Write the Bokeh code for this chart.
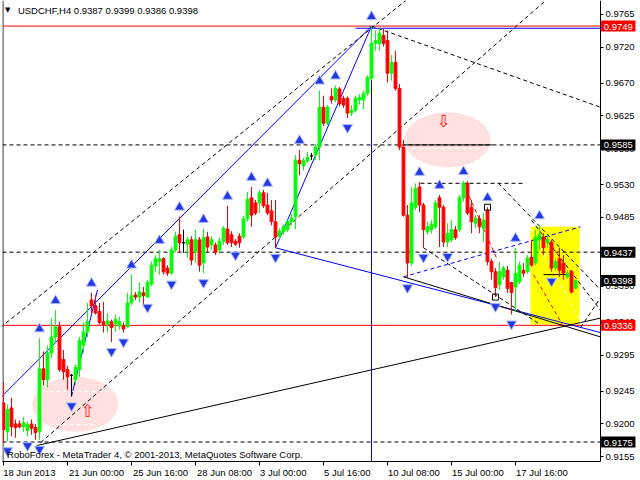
from bokeh.plotting import figure
from bokeh.models import Range1d, FixedTicker, PrintfTickFormatter, Label, LinearAxis
from bokeh.core.properties import value
from bokeh.embed import file_html
from bokeh.resources import INLINE

# ---- H4 candles, USDCHF (18 Jun 2013 08:00 onward) ----
OPEN = [0.9229, 0.9189, 0.9222, 0.9200, 0.9200, 0.9196, 0.9191, 0.9200, 0.9195, 0.9189,
        0.9276, 0.9261, 0.9298, 0.9320, 0.9334, 0.9289, 0.9275, 0.9267, 0.9261, 0.9275,
        0.9309, 0.9327, 0.9371, 0.9363, 0.9355, 0.9341, 0.9337, 0.9341, 0.9338, 0.9335,
        0.9335, 0.9334, 0.9367, 0.9378, 0.9375, 0.9381, 0.9375, 0.9393, 0.9418, 0.9424,
        0.9428, 0.9415, 0.9408, 0.9440, 0.9461, 0.9450, 0.9448, 0.9454, 0.9437, 0.9454,
        0.9422, 0.9458, 0.9447, 0.9447, 0.9440, 0.9452, 0.9469, 0.9461, 0.9452, 0.9459,
        0.9458, 0.9483, 0.9512, 0.9505, 0.9505, 0.9519, 0.9502, 0.9494, 0.9479, 0.9459,
        0.9465, 0.9468, 0.9479, 0.9486, 0.9564, 0.9556, 0.9563, 0.9570, 0.9571, 0.9582,
        0.9637, 0.9615, 0.9652, 0.9647, 0.9662, 0.9649, 0.9649, 0.9629, 0.9633, 0.9647,
        0.9647, 0.9656, 0.9677, 0.9725, 0.9725, 0.9736, 0.9729, 0.9684, 0.9699, 0.9663,
        0.9582, 0.9488, 0.9422, 0.9499, 0.9527, 0.9502, 0.9465, 0.9468, 0.9472, 0.9512,
        0.9499, 0.9451, 0.9454, 0.9468, 0.9468, 0.9512, 0.9532, 0.9499, 0.9477, 0.9483,
        0.9470, 0.9495, 0.9424, 0.9410, 0.9392, 0.9403, 0.9412, 0.9395, 0.9389, 0.9396,
        0.9412, 0.9410, 0.9430, 0.9422, 0.9454, 0.9458, 0.9450, 0.9451, 0.9415, 0.9428,
        0.9422, 0.9403, 0.9410, 0.9387]
HIGH = [0.9258, 0.9227, 0.9236, 0.9206, 0.9205, 0.9209, 0.9203, 0.9206, 0.9200, 0.9318,
        0.9300, 0.9308, 0.9346, 0.9357, 0.9341, 0.9302, 0.9280, 0.9269, 0.9282, 0.9320,
        0.9340, 0.9367, 0.9381, 0.9378, 0.9367, 0.9368, 0.9353, 0.9344, 0.9351, 0.9348,
        0.9340, 0.9381, 0.9406, 0.9382, 0.9395, 0.9389, 0.9399, 0.9424, 0.9433, 0.9440,
        0.9430, 0.9419, 0.9444, 0.9465, 0.9486, 0.9468, 0.9458, 0.9459, 0.9468, 0.9458,
        0.9469, 0.9465, 0.9459, 0.9450, 0.9457, 0.9473, 0.9501, 0.9466, 0.9455, 0.9463,
        0.9487, 0.9520, 0.9527, 0.9509, 0.9523, 0.9523, 0.9519, 0.9509, 0.9509, 0.9470,
        0.9476, 0.9481, 0.9490, 0.9571, 0.9578, 0.9567, 0.9575, 0.9574, 0.9587, 0.9660,
        0.9653, 0.9640, 0.9663, 0.9667, 0.9665, 0.9653, 0.9652, 0.9640, 0.9653, 0.9655,
        0.9660, 0.9681, 0.9749, 0.9743, 0.9746, 0.9746, 0.9743, 0.9709, 0.9715, 0.9669,
        0.9592, 0.9502, 0.9527, 0.9532, 0.9534, 0.9505, 0.9479, 0.9481, 0.9509, 0.9516,
        0.9502, 0.9477, 0.9481, 0.9473, 0.9516, 0.9535, 0.9535, 0.9509, 0.9488, 0.9488,
        0.9491, 0.9499, 0.9428, 0.9415, 0.9424, 0.9418, 0.9418, 0.9396, 0.9443, 0.9424,
        0.9422, 0.9433, 0.9454, 0.9468, 0.9474, 0.9463, 0.9461, 0.9454, 0.9429, 0.9443,
        0.9433, 0.9412, 0.9412, 0.9399]
LOW = [0.9174, 0.9176, 0.9183, 0.9181, 0.9194, 0.9189, 0.9183, 0.9185, 0.9178, 0.9178,
       0.9253, 0.9250, 0.9291, 0.9312, 0.9272, 0.9261, 0.9247, 0.9238, 0.9254, 0.9265,
       0.9298, 0.9320, 0.9353, 0.9351, 0.9337, 0.9326, 0.9326, 0.9313, 0.9327, 0.9330,
       0.9326, 0.9333, 0.9364, 0.9371, 0.9368, 0.9362, 0.9374, 0.9390, 0.9410, 0.9406,
       0.9406, 0.9404, 0.9406, 0.9437, 0.9436, 0.9436, 0.9429, 0.9419, 0.9422, 0.9410,
       0.9408, 0.9437, 0.9440, 0.9433, 0.9435, 0.9447, 0.9447, 0.9444, 0.9446, 0.9443,
       0.9455, 0.9479, 0.9472, 0.9488, 0.9491, 0.9498, 0.9488, 0.9474, 0.9443, 0.9455,
       0.9461, 0.9465, 0.9474, 0.9469, 0.9543, 0.9550, 0.9560, 0.9564, 0.9564, 0.9564,
       0.9611, 0.9612, 0.9642, 0.9644, 0.9638, 0.9636, 0.9622, 0.9625, 0.9630, 0.9641,
       0.9634, 0.9653, 0.9674, 0.9715, 0.9715, 0.9721, 0.9671, 0.9674, 0.9660, 0.9578,
       0.9486, 0.9401, 0.9418, 0.9495, 0.9492, 0.9443, 0.9461, 0.9463, 0.9469, 0.9444,
       0.9444, 0.9444, 0.9451, 0.9454, 0.9465, 0.9507, 0.9488, 0.9463, 0.9470, 0.9463,
       0.9451, 0.9419, 0.9399, 0.9375, 0.9385, 0.9399, 0.9381, 0.9351, 0.9355, 0.9393,
       0.9403, 0.9407, 0.9417, 0.9419, 0.9440, 0.9433, 0.9443, 0.9410, 0.9412, 0.9403,
       0.9399, 0.9400, 0.9380, 0.9386]
CLOSE = [0.9192, 0.9220, 0.9196, 0.9195, 0.9196, 0.9202, 0.9199, 0.9194, 0.9188, 0.9276,
         0.9261, 0.9298, 0.9320, 0.9334, 0.9275, 0.9272, 0.9265, 0.9267, 0.9278, 0.9315,
         0.9327, 0.9341, 0.9363, 0.9353, 0.9340, 0.9337, 0.9342, 0.9333, 0.9344, 0.9341,
         0.9331, 0.9367, 0.9377, 0.9375, 0.9382, 0.9377, 0.9395, 0.9419, 0.9428, 0.9428,
         0.9410, 0.9408, 0.9440, 0.9459, 0.9450, 0.9450, 0.9454, 0.9426, 0.9454, 0.9419,
         0.9457, 0.9444, 0.9454, 0.9437, 0.9452, 0.9470, 0.9450, 0.9450, 0.9448, 0.9450,
         0.9483, 0.9510, 0.9488, 0.9491, 0.9519, 0.9501, 0.9491, 0.9479, 0.9458, 0.9466,
         0.9472, 0.9479, 0.9484, 0.9564, 0.9559, 0.9563, 0.9568, 0.9570, 0.9582, 0.9637,
         0.9615, 0.9637, 0.9647, 0.9663, 0.9642, 0.9640, 0.9629, 0.9633, 0.9649, 0.9651,
         0.9656, 0.9678, 0.9725, 0.9729, 0.9739, 0.9725, 0.9684, 0.9699, 0.9663, 0.9582,
         0.9488, 0.9422, 0.9505, 0.9525, 0.9502, 0.9468, 0.9472, 0.9476, 0.9505, 0.9499,
         0.9451, 0.9463, 0.9468, 0.9457, 0.9512, 0.9532, 0.9491, 0.9479, 0.9484, 0.9472,
         0.9481, 0.9424, 0.9410, 0.9388, 0.9410, 0.9415, 0.9387, 0.9381, 0.9408, 0.9419,
         0.9408, 0.9429, 0.9419, 0.9458, 0.9461, 0.9443, 0.9454, 0.9415, 0.9424, 0.9412,
         0.9408, 0.9408, 0.9382, 0.9398]

DATE_TICKS = [0, 16, 32, 48, 64, 80, 96, 112, 128]
DATE_LABELS = ["18 Jun 2013", "21 Jun 00:00", "25 Jun 16:00", "28 Jun 08:00", "3 Jul 00:00",
               "5 Jul 16:00", "10 Jul 08:00", "15 Jul 00:00", "17 Jul 16:00"]
PRICE_TICKS = [0.9765, 0.9720, 0.9670, 0.9625, 0.9580, 0.9530, 0.9485, 0.9390, 0.9340,
               0.9295, 0.9245, 0.9200, 0.9155]

# horizontal levels: (price, line colour, dash, label background)
LEVELS = [(0.9749, "#FF0000", "solid", "#FF0000"),
          (0.9585, "black", "4 3", "black"),
          (0.9437, "black", "4 3", "black"),
          (0.9336, "#FF0000", "solid", "#FF0000"),
          (0.9175, "black", "4 3", "black")]
BID = 0.9398

# fractal bars
UP_FRACTALS = [9, 13, 22, 32, 39, 44, 50, 56, 62, 66, 74, 79, 83, 92, 104, 109, 115, 121, 128, 134]
DOWN_FRACTALS = [1, 6, 9, 17, 27, 30, 36, 42, 50, 58, 68, 86, 101, 105, 111, 123, 127, 137]

# trend lines: (bar0, price0, bar1, price1, colour, dash)
TRENDLINES = [
    (-0.75, 0.9236, 92, 0.9749, "#0000FF", "solid"),
    (68, 0.9443, 92, 0.9749, "#0000FF", "solid"),
    (68, 0.9443, 149.25, 0.9326, "#0000FF", "solid"),
    (17, 0.9238, 23.5, 0.9385, "#0000FF", "solid"),
    (8.25, 0.9170, 149.25, 0.9346, "black", "solid"),
    (100, 0.9403, 149.25, 0.9320, "black", "solid"),
    (-0.75, 0.9333, 100.5, 0.9784, "black", "4 3"),
    (9.25, 0.9174, 135.5, 0.9784, "black", "4 3"),
    (92, 0.9749, 149.25, 0.9637, "black", "4 3"),
    (104.25, 0.9532, 130.5, 0.9532, "black", "4 3"),
    (123.75, 0.9532, 149.25, 0.9385, "black", "4 3"),
    (105, 0.9443, 134.25, 0.9337, "black", "4 3"),
    (132, 0.9481, 149.25, 0.9357, "black", "4 3"),
    (144.25, 0.9333, 149.25, 0.9374, "black", "4 3"),
    (100, 0.9403, 144.25, 0.9472, "#0000FF", "4 3"),
    (115, 0.9532, 123.5, 0.9426, "#FF0000", "4 3"),
    (132.5, 0.9406, 139.75, 0.9337, "#FF0000", "4 3"),
    (132, 0.9469, 144.25, 0.9340, "white", "4 3"),
    (100, 0.9585, 122.25, 0.9585, "black", "solid"),
    (88, 0.9746, 149.25, 0.9746, "#0000FF", "solid"),
    (92, 0.9746, 92, 0.9148, "#0000FF", "solid"),
    (135, 0.9406, 141, 0.9406, "black", "solid"),
    (9.75, 0.9245, 26.75, 0.9245, "white", "4 3"),
    (13, 0.9199, 23.5, 0.9199, "white", "4 3"),
    (102.25, 0.9580, 120, 0.9580, "white", "4 3"),
]

FONT = "Liberation Sans"
FS = 9.5
X_LEFT, X_EDGE, X_RIGHT = -0.25, 149.25, 159.25   # chart area ends at X_EDGE, price scale beyond

# advance widths (per 1000 em) used to left-align the date labels on their ticks
ADV = {c: 556 for c in "0123456789"}
ADV.update({" ": 278, ":": 278, "J": 500, "u": 556, "n": 556, "l": 222})


def left_aligned(s, first=False):
    if first:
        return "\u00a0" + s
    w = sum(ADV.get(c, 556) for c in s) * FS / 1000.0
    n = int(round((w + 2) / (278 * FS / 1000.0)))
    return "\u00a0" * n + s


p = figure(width=640, height=480, x_range=Range1d(X_LEFT, X_RIGHT),
           y_range=Range1d(0.91481, 0.97843), output_backend="svg",
           toolbar_location=None, y_axis_location=None, title=None,
           min_border_left=2, min_border_top=0, min_border_right=0, min_border_bottom=18)
p.xgrid.visible = False
p.ygrid.visible = False
p.outline_line_color = None
p.background_fill_color = "white"
p.border_fill_color = "white"

# price scale drawn at the right edge of the chart area
yax = LinearAxis(fixed_location=X_EDGE)
p.add_layout(yax, "right")

for ax in (p.xaxis[0], yax):
    ax.axis_line_color = "black"
    ax.major_tick_line_color = "black"
    ax.minor_tick_line_color = None
    ax.major_tick_in = 0
    ax.major_label_text_font = FONT
    ax.major_label_text_font_size = "%spx" % FS
    ax.major_label_text_color = "black"

p.xaxis.ticker = FixedTicker(ticks=DATE_TICKS)
p.xaxis.major_label_overrides = {t: left_aligned(s, t == DATE_TICKS[0])
                                 for t, s in zip(DATE_TICKS, DATE_LABELS)}
p.xaxis.major_tick_out = 4
p.xaxis.major_label_standoff = 1
p.xaxis.bounds = (X_LEFT, X_EDGE)
yax.ticker = FixedTicker(ticks=PRICE_TICKS)
yax.formatter = PrintfTickFormatter(format="%.4f")
yax.major_tick_out = 3
yax.major_label_standoff = 2

idx = list(range(len(OPEN)))

# left border of the chart window
p.line([X_LEFT + 0.12, X_LEFT + 0.12], [0.91481, 0.97843], line_color="black", line_width=1)

# background objects
p.ellipse(x=[111, 18], y=[0.9592, 0.9227], width=[21.5, 21.5], height=[0.0076, 0.0076],
          fill_color="#FFE0E0", line_color=None)
p.quad(left=[131.75], right=[144], top=[0.9472], bottom=[0.9337], fill_color="#FFFF00",
       line_color=None)

for price, col, dash, _ in LEVELS:
    p.line([X_LEFT, X_EDGE], [price, price], line_color=col, line_dash=dash, line_width=1)

for x0, y0, x1, y1, col, dash in TRENDLINES:
    p.line([x0, x1], [y0, y1], line_color=col, line_dash=dash, line_width=1)

p.text(x=[21, 110], y=[0.9218, 0.9618], text=["\u21e7", "\u21e9"], text_color="#FF2020",
       text_font=value("DejaVu Sans"), text_font_size="17px", text_align="center",
       text_baseline="middle")

# candles
cols = []
for o, c in zip(OPEN, CLOSE):
    cols.append("#00FF00" if c > o else ("#FF0000" if c < o else "black"))
p.segment(x0=idx, y0=HIGH, x1=idx, y1=LOW, line_color=cols, line_width=1)
p.vbar(x=idx, top=[max(o, c) for o, c in zip(OPEN, CLOSE)],
       bottom=[min(o, c) for o, c in zip(OPEN, CLOSE)], width=0.7,
       fill_color=cols, line_color=cols, line_width=1)

# fractals
off = 0.0013
p.scatter(x=UP_FRACTALS, y=[HIGH[i] + off for i in UP_FRACTALS], marker="triangle",
          size=10, fill_color="#2238E0", line_color="#A8B8FF", line_width=1)
p.scatter(x=DOWN_FRACTALS, y=[LOW[i] - off for i in DOWN_FRACTALS], marker="inverted_triangle",
          size=10, fill_color="#2238E0", line_color="#A8B8FF", line_width=1)
p.scatter(x=[121, 123], y=[HIGH[121], LOW[123]], marker="square", size=6,
          fill_color=None, line_color="black")

# price boxes on the scale
for price, _, _, bg in LEVELS + [(BID, None, None, "black")]:
    p.add_layout(Label(x=X_EDGE + 0.15, y=price, text="\u00a0%.4f\u00a0" % price,
                       text_color="white", background_fill_color=bg,
                       text_font=FONT, text_font_size="%spx" % FS,
                       text_baseline="middle", text_align="left"))

# header / footer text
p.add_layout(Label(x=0.4, y=0.97705, text="\u25bc", text_font="DejaVu Sans",
                   text_font_size="7px", text_baseline="middle", text_color="black"))
p.add_layout(Label(x=3.6, y=0.97705, text="USDCHF,H4  0.9387 0.9399 0.9386 0.9398",
                   text_font=FONT, text_font_size="%spx" % FS, text_baseline="middle",
                   text_color="black"))
p.add_layout(Label(x=0.9, y=0.9158,
                   text="RoboForex - MetaTrader 4, \u00a9 2001-2013, MetaQuotes Software Corp.",
                   text_font=FONT, text_font_size="%spx" % FS, text_baseline="middle",
                   text_color="black"))

open("out.html", "w").write(file_html(p, INLINE))
